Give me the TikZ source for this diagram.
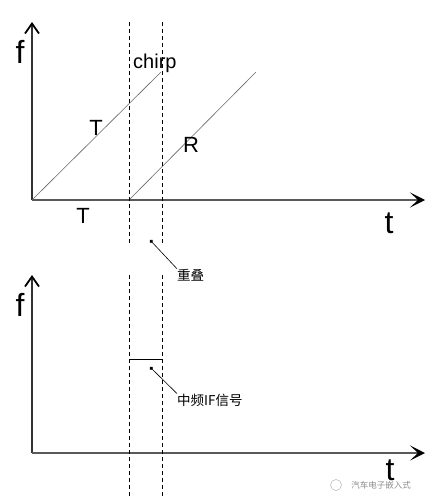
\documentclass[tikz,border=0pt]{standalone}
\usepackage{fontspec}
\setmainfont{Liberation Sans}
\newfontfamily\cjk{Noto Sans CJK SC}
\usetikzlibrary{arrows.meta,positioning}

\begin{document}
\begin{tikzpicture}[x=1pt, y=-1pt]
    % Define styles
    \tikzstyle{yaxis} = [line width=1.5pt, draw=black!80, -{Straight Barb[length=10pt,width=14pt,line width=1.8pt,black]}]
    \tikzstyle{xaxis} = [line width=1.8pt, draw=black!65, -{Stealth[length=15pt,width=15pt,inset=8pt,black]}]
    \tikzstyle{sweep} = [line width=0.6pt, draw=black!60]
    \tikzstyle{window} = [line width=0.8pt, dash pattern=on 4pt off 3pt]
    \tikzstyle{big} = [font=\fontsize{32}{32}\selectfont, inner sep=0pt]
    \tikzstyle{mid} = [font=\fontsize{22}{22}\selectfont, inner sep=0pt]
    \tikzstyle{note} = [font=\cjk\fontsize{13.5}{14}\selectfont, inner sep=0pt, anchor=west]
    \tikzstyle{leader} = [line width=0.6pt, {Circle[length=3.5pt]}-]

    \useasboundingbox (0,0) rectangle (434,503);

    % Upper plot: chirps
    \coordinate (o1) at (32,200);
    \coordinate (fTop1) at (32,22);
    \coordinate (tEnd1) at (425,200);
    \draw [yaxis] (o1) -- (fTop1);
    \draw [xaxis] (o1) -- (tEnd1);
    \node [big] (f1) at (20,52) {f};
    \node [big] (t1) at (389,223) {t};

    \coordinate (rStart) at (129,200);
    \coordinate (tx) at (161,72);
    \coordinate (rx) at (256,72);
    \draw [sweep] (o1) -- (tx);
    \draw [sweep] (rStart) -- (rx);
    \node [mid, anchor=base west, font=\fontsize{20}{20}\selectfont] (chirp) at (133,68) {chirp};
    \node [mid] (tLabel) at (96,128) {T};
    \node [mid] (rLabel) at (191,145) {R};
    \node [mid] (period) at (83,216) {T};

    % Overlap window
    \coordinate (winA1) at (129,22);
    \coordinate (winA2) at (129,245);
    \coordinate (winB1) at (162,22);
    \coordinate (winB2) at (162,245);
    \draw [window] (winA1) -- (winA2);
    \draw [window] (winB1) -- (winB2);
    \coordinate (overlapDot) at (150,240);
    \node [note] (overlap) at (177,275) {重叠};
    \draw [leader] (overlapDot) -- (overlap.north west);

    % Lower plot: IF signal
    \coordinate (o2) at (32,453);
    \coordinate (fTop2) at (32,275);
    \coordinate (tEnd2) at (425,453);
    \draw [yaxis] (o2) -- (fTop2);
    \draw [xaxis] (o2) -- (tEnd2);
    \node [big] (f2) at (20,305) {f};
    \node [big] (t2) at (390,470) {t};

    \coordinate (winC1) at (129,275);
    \coordinate (winC2) at (129,498);
    \coordinate (winD1) at (162,275);
    \coordinate (winD2) at (162,498);
    \draw [window] (winC1) -- (winC2);
    \draw [window] (winD1) -- (winD2);
    \draw [line width=1pt] (winC1 |- 0,359) -- (winD1 |- 0,359);
    \coordinate (ifDot) at (150,367);
    \node [note] (ifLabel) at (177,400) {中频IF信号};
    \draw [leader] (ifDot) -- (ifLabel.north west);

    % Watermark
    \node [font=\cjk\fontsize{8.5}{9}\selectfont, text=black!45, inner sep=0pt] (mark) at (381,485) {汽车电子嵌入式};
    \draw [black!30, line width=0.5pt] (336,485) circle (5.5pt);
\end{tikzpicture}
\end{document}
